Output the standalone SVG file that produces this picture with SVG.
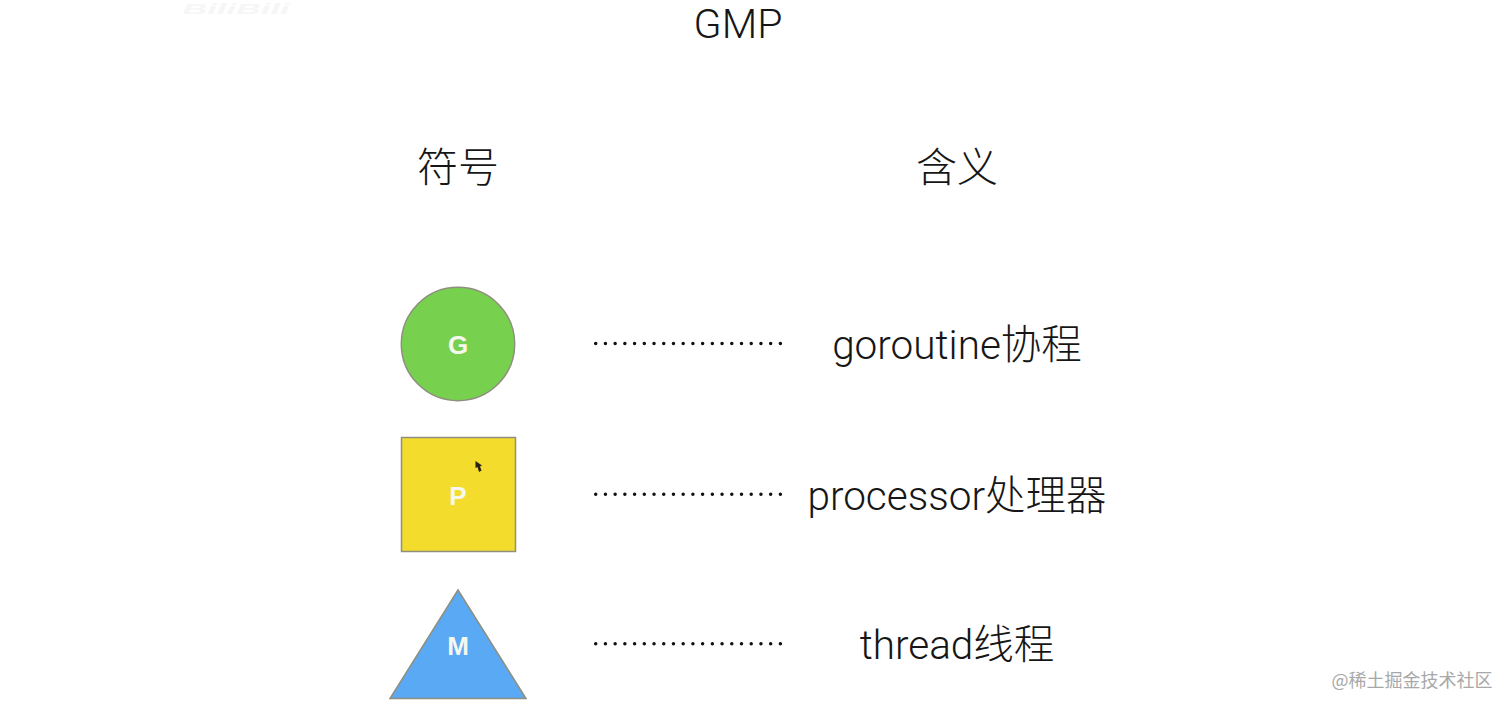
<svg xmlns="http://www.w3.org/2000/svg" width="1512" height="711" viewBox="0 0 1512 711">
<style>
text{font-family:Roboto,"Noto Sans CJK SC","Liberation Sans",sans-serif;font-weight:300;fill:#161616;text-anchor:middle}
.h{font-size:41px}
.m{font-size:40.500px}
.cjk{font-family:"Noto Sans CJK SC",sans-serif;font-weight:300}
.sym{font-family:"Liberation Sans",Arial,sans-serif;font-weight:700;font-size:26px;fill:#f6f8ef}
.shape{stroke:#8f8f7f;stroke-width:1.5}
.dots{fill:none;stroke:#111;stroke-width:3.5;stroke-linecap:round;stroke-dasharray:0 9.72}
</style>
<rect width="1512" height="711" fill="#fff"/>
<text x="236" y="14" textLength="107" lengthAdjust="spacingAndGlyphs" style="font-size:15px;font-weight:700;font-style:italic;fill:#f6f6f6;font-family:'Liberation Sans',sans-serif">BiliBili</text>
<text id="title" class="h" x="738" y="38">GMP</text>
<text id="head-symbol" class="h cjk" x="458" y="182">符号</text>
<text id="head-meaning" class="h cjk" x="957" y="182">含义</text>
<g id="node-g">
<circle class="shape" cx="458" cy="344" r="56.700" fill="#78d04f"/>
<text class="sym" x="458" y="353.500">G</text>
</g>
<g id="node-p">
<rect class="shape" x="401.500" y="437.500" width="114" height="114" fill="#f3dc2c"/>
<text class="sym" x="458" y="504.500">P</text>
<polygon points="475.500,461 475.500,468 477.500,467 479,472 481.500,470.500 480,466.500 482,465.500" fill="#2a2218"/>
</g>
<g id="node-m">
<polygon class="shape" points="458,590 526,698.500 390,698.500" fill="#59a9f5"/>
<text class="sym" x="458" y="654.500">M</text>
</g>
<g id="connectors">
<line class="dots" x1="595.700" y1="343.400" x2="782" y2="343.400"/>
<line class="dots" x1="595.700" y1="494.300" x2="782" y2="494.300"/>
<line class="dots" x1="595.700" y1="643.700" x2="782" y2="643.700"/>
</g>
<text id="label-g" class="m" x="957" y="359">goroutine协程</text>
<text id="label-p" class="m" x="957" y="510">processor处理器</text>
<text id="label-m" class="m" x="957" y="659">thread线程</text>
<text id="watermark" x="1412" y="687" style="font-size:18px;font-weight:400;fill:#a8a8a8;font-family:'Noto Sans CJK SC',sans-serif">@稀土掘金技术社区</text>
</svg>
